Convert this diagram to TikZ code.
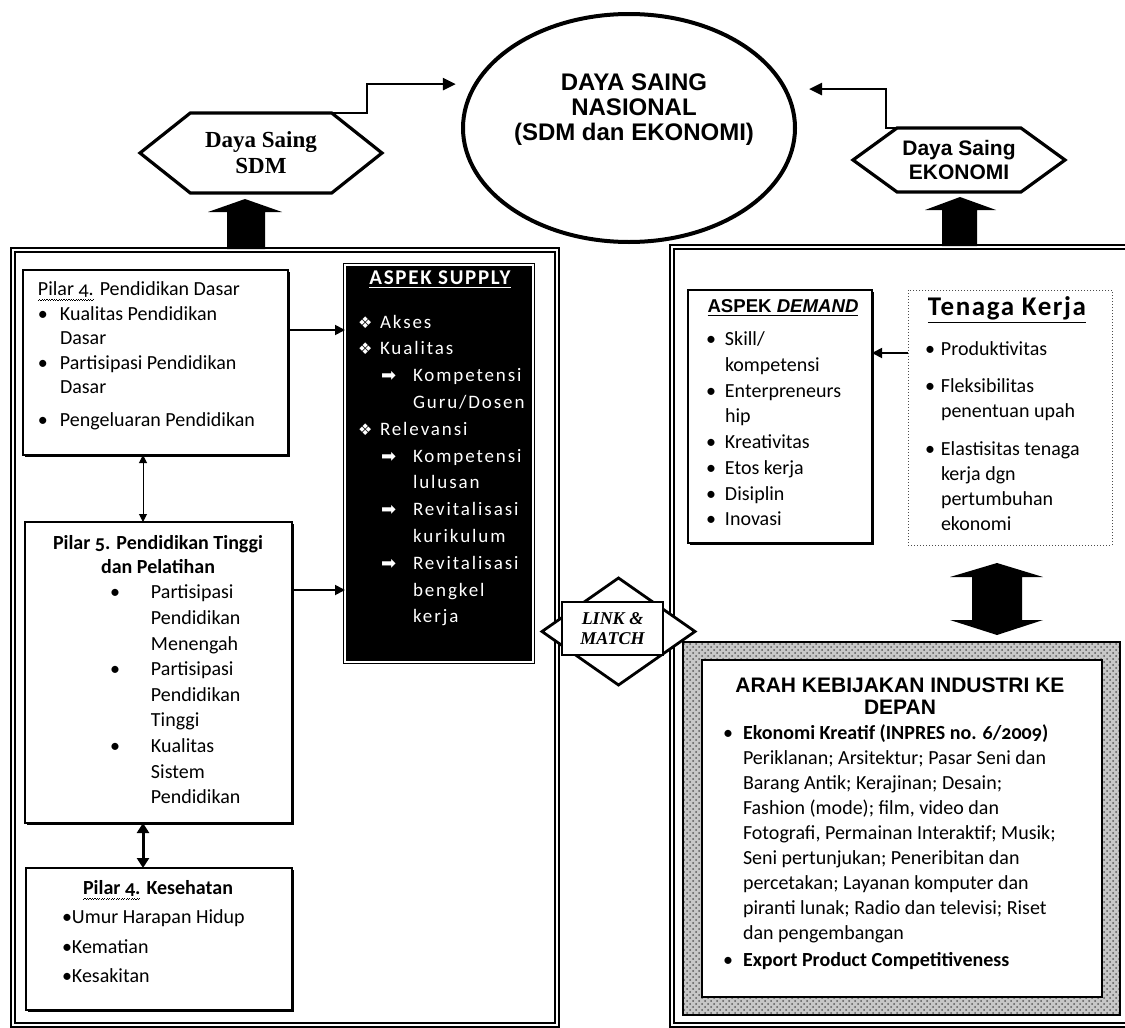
\documentclass[tikz,border=0pt]{standalone}
\usepackage{fontspec}
\setmainfont{Carlito}[Numbers=OldStyle]
\newfontfamily\arialf{Liberation Sans}
\newfontfamily\timesf{Liberation Serif}
\newfontfamily\symf{DejaVu Sans}
\newfontfamily\spacef{Carlito}[LetterSpace=10]
\usetikzlibrary{arrows.meta,shapes.geometric,shapes.symbols,shadows,patterns}
\newcommand{\itm}[1]{\makebox[#1][l]{\textbullet}}
\newcommand{\pind}[1]{\hspace*{#1}}
\newcommand{\sdia}{\makebox[11pt][l]{\symf\fontsize{8}{9}\selectfont ❖}}
\newcommand{\sarw}{\makebox[16pt][l]{\symf\fontsize{9}{9}\selectfont ➡}}
\newcommand{\wavy}[1]{\setbox0\hbox{#1}\rlap{\hbox to\wd0{\xleaders\hbox{\rule[-2.6pt]{0.6pt}{0.35pt}\rule[-2.1pt]{0.6pt}{0.35pt}}\hfil}}#1}
\begin{document}
\begin{tikzpicture}[x=0.5pt,y=-0.5pt,inner sep=0pt,outer sep=0pt,
bigbox/.style={draw,double,line width=0.8pt,double distance=1pt},
pbox/.style={draw,rectangle,fill=white,line width=0.6pt,drop shadow={shadow xshift=1.2pt,shadow yshift=-1.2pt,fill=black,opacity=1}},
hexa/.style={draw,signal,signal to=west and east,line width=1.6pt,fill=white,align=center},
txt/.style={align=left,font=\fontsize{10}{12.5}\selectfont},
arr/.style={-{Triangle[length=5pt,width=5pt]},line width=0.9pt},
toparr/.style={-{Triangle[length=6.5pt,width=6pt]},line width=1.3pt,shorten >=10pt},
dbl/.style={{Triangle[length=4pt,width=4pt]}-{Triangle[length=4pt,width=4pt]},line width=0.5pt},
dblb/.style={{Triangle[length=5pt,width=6pt]}-{Triangle[length=5pt,width=6pt]},line width=1.5pt}]
\useasboundingbox (0,0) rectangle (1125,1028);
\draw[bigbox] (13,250) rectangle (557,1025);
\draw[bigbox] (672,247) rectangle (1140,1025);
\draw (629,128) node[ellipse,draw,line width=2pt,minimum width=166pt,minimum height=114pt] (nas) {};
\draw (634,110) node[align=center,font=\arialf\bfseries\fontsize{12}{12.5}\selectfont] (nastxt) {DAYA SAING\\NASIONAL\\(SDM dan EKONOMI)};
\draw (261,153) node[hexa,signal pointer angle=77,minimum width=121pt,minimum height=40pt,font=\timesf\bfseries\fontsize{11.5}{13}\selectfont] (sdm) {Daya Saing\\SDM};
\draw (959,160) node[hexa,signal pointer angle=72,minimum width=106pt,minimum height=32pt,font=\arialf\bfseries\fontsize{10.5}{12}\selectfont] (eko) {Daya Saing\\EKONOMI};
\draw[toparr] (sdm.north) -- ++(106,0) |- (nas.164);
\draw[toparr,shorten >=12pt] (eko.north) -- ++(-73,0) |- (nas.14);
\fill (227,249) -- (227,212) -- (208,212) -- (245,199) -- (282,212) -- (265,212) -- (265,249) -- cycle;
\fill (942,246) -- (942,210) -- (925,210) -- (960,197) -- (996,210) -- (977,210) -- (977,246) -- cycle;
\fill (972,577) -- (950,577) -- (997,563) -- (1043,577) -- (1022,577) -- (1022,620) -- (1043,620) -- (997,635) -- (950,620) -- (972,620) -- cycle;
\draw (155.5,362.5) node[pbox,minimum width=132.5pt,minimum height=92.5pt] (p4) {};
\draw (38,282) node[txt,anchor=north west,font=\fontsize{10}{12.2}\selectfont] (p4t) {\wavy{Pilar 4.} Pendidikan Dasar\\\itm{11pt}Kualitas Pendidikan\\\pind{11pt}Dasar\\\itm{11pt}Partisipasi Pendidikan\\\pind{11pt}Dasar\\[4.5pt]\itm{11pt}Pengeluaran Pendidikan};
\draw (158.5,672.5) node[pbox,minimum width=133.5pt,minimum height=150.5pt] (p5) {};
\draw (158,555) node[align=center,font=\bfseries\fontsize{10}{12}\selectfont] (p5h) {Pilar 5. Pendidikan Tinggi\\dan Pelatihan};
\draw (110,585) node[txt,anchor=north west,font=\fontsize{10}{12.8}\selectfont] (p5t) {\itm{20.5pt}Partisipasi\\\pind{20.5pt}Pendidikan\\\pind{20.5pt}Menengah\\\itm{20.5pt}Partisipasi\\\pind{20.5pt}Pendidikan\\\pind{20.5pt}Tinggi\\\itm{20.5pt}Kualitas\\\pind{20.5pt}Sistem\\\pind{20.5pt}Pendidikan};
\draw (159,939) node[pbox,minimum width=133pt,minimum height=71pt] (kes) {};
\draw (158,890) node[font=\bfseries\fontsize{10}{12}\selectfont] (kesh) {\wavy{Pilar 4.} Kesehatan};
\draw (62,910) node[txt,anchor=north west,font=\fontsize{10}{14.75}\selectfont] (kest) {\textbullet Umur Harapan Hidup\\\textbullet Kematian\\\textbullet Kesakitan};
\draw (439,463.5) node[draw=black,fill=black,double=white,double distance=0.8pt,line width=0.5pt,minimum width=94pt,minimum height=198.5pt] (sup) {};
\draw (440,280) node[text=white,font=\bfseries\fontsize{10.5}{12}\selectfont\addfontfeature{LetterSpace=8}] (suph) {\underline{ASPEK SUPPLY}};
\draw (358,315) node[txt,anchor=north west,text=white,font=\spacef\fontsize{9.5}{13.4}\selectfont] (supt) {\sdia Akses\\\sdia Kualitas\\\pind{11.5pt}\sarw Kompetensi\\\pind{27.5pt}Guru/Dosen\\\sdia Relevansi\\\pind{11.5pt}\sarw Kompetensi\\\pind{27.5pt}lulusan\\\pind{11.5pt}\sarw Revitalisasi\\\pind{27.5pt}kurikulum\\\pind{11.5pt}\sarw Revitalisasi\\\pind{27.5pt}bengkel\\\pind{27.5pt}kerja};
\draw (780,416.5) node[pbox,minimum width=92pt,minimum height=126.5pt] (dem) {};
\draw (783,308) node[font=\arialf\bfseries\fontsize{9.3}{11}\selectfont] (demh) {\underline{ASPEK \textit{DEMAND}}};
\draw (706,332) node[txt,anchor=north west,font=\fontsize{10}{12.85}\selectfont] (demt) {\itm{9.5pt}Skill/\\\pind{9.5pt}kompetensi\\\itm{9.5pt}Enterpreneurs\\\pind{9.5pt}hip\\\itm{9.5pt}Kreativitas\\\itm{9.5pt}Etos kerja\\\itm{9.5pt}Disiplin\\\itm{9.5pt}Inovasi};
\draw (1010,417.5) node[draw=black!70,densely dotted,line width=0.5pt,minimum width=102pt,minimum height=127.5pt] (ten) {};
\draw (1007,310) node[font=\bfseries\fontsize{13.5}{15}\selectfont\addfontfeature{LetterSpace=6}] (tenh) {\underline{Tenaga Kerja}};
\draw (925,342) node[txt,anchor=north west] (tent) {\itm{8pt}Produktivitas\\[6pt]\itm{8pt}Fleksibilitas\\\pind{8pt}penentuan upah\\[6.5pt]\itm{8pt}Elastisitas tenaga\\\pind{8pt}kerja dgn\\\pind{8pt}pertumbuhan\\\pind{8pt}ekonomi};
\draw (901.5,828.5) node[draw,line width=1.2pt,preaction={fill=black!22},pattern=crosshatch dots,pattern color=black!65,minimum width=218.5pt,minimum height=186.5pt] (arah) {};
\draw (902,828.5) node[draw,line width=1.2pt,fill=white,minimum width=200pt,minimum height=168.5pt] (arahin) {};
\draw (900,696) node[align=center,font=\arialf\bfseries\fontsize{10.5}{11}\selectfont] (arahh) {ARAH KEBIJAKAN INDUSTRI KE\\DEPAN};
\draw (723,725) node[txt,anchor=north west,font=\fontsize{10}{12.45}\selectfont] (araht) {\itm{10pt}\textbf{Ekonomi Kreatif (INPRES no. 6/2009)}\\\pind{10pt}Periklanan; Arsitektur; Pasar Seni dan\\\pind{10pt}Barang Antik; Kerajinan; Desain;\\\pind{10pt}Fashion (mode); film, video dan\\\pind{10pt}Fotografi, Permainan Interaktif; Musik;\\\pind{10pt}Seni pertunjukan; Peneribitan dan\\\pind{10pt}percetakan; Layanan komputer dan\\\pind{10pt}piranti lunak; Radio dan televisi; Riset\\\pind{10pt}dan pengembangan\\[1.5pt]\itm{10pt}\textbf{Export Product Competitiveness}};
\draw (618.5,631.5) node[diamond,draw,line width=1.4pt,fill=white,minimum width=76.5pt,minimum height=53.5pt] (link) {};
\draw (612.5,628.5) node[draw,line width=1pt,fill=white,minimum width=50.5pt,minimum height=26.5pt,align=center,font=\timesf\bfseries\itshape\fontsize{9}{10}\selectfont] (linkt) {LINK \&\\MATCH};
\coordinate (a1) at ([yshift=16.25pt]p4.east);
\coordinate (a2) at ([yshift=41.25pt]p5.east);
\coordinate (a3) at ([yshift=32.25pt]ten.west);
\coordinate (d1) at ([xshift=-6.25pt]p4.south);
\coordinate (d2) at ([xshift=-7.75pt]p5.south);
\draw[arr] (a1) -- (a1 -| sup.west);
\draw[arr] (a2) -- (a2 -| sup.west);
\draw[arr] (a3) -- (a3 -| dem.east);
\draw[dbl] (d1) -- (d1 |- p5.north);
\draw[dblb] (d2) -- (d2 |- kes.north);
\end{tikzpicture}
\end{document}
